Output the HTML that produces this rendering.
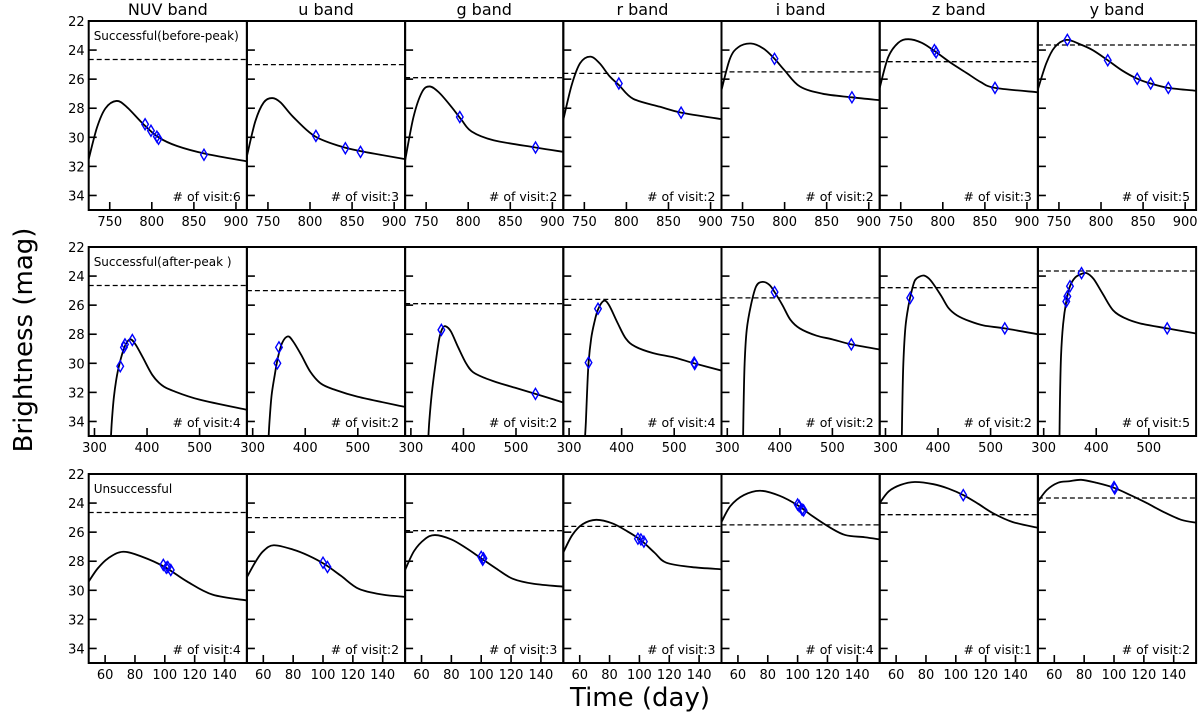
<!DOCTYPE html>
<html><head><meta charset="utf-8"><style>
html,body{margin:0;padding:0;background:#fff;}
svg{display:block;font-family:"DejaVu Sans","Liberation Sans",sans-serif;}
</style></head>
<body>
<svg id="chart" width="1200" height="715" viewBox="0 0 1200 715" xmlns="http://www.w3.org/2000/svg">
<text x="0" y="0" transform="translate(32,340) rotate(-90)" text-anchor="middle" font-size="26">Brightness (mag)</text>
<text x="640" y="706" text-anchor="middle" font-size="26">Time (day)</text>
</svg>
<script>
const bands = ["NUV band","u band","g band","r band","i band","z band","y band"];
const dashLevels = [24.65,25.0,25.9,25.6,25.5,24.8,23.65];
const rowLabels = ["Successful(before-peak)","Successful(after-peak )","Unsuccessful"];
const visitsRow1 = [6,3,2,2,2,3,5];
const visitsRow2 = [4,2,2,4,2,2,5];
const visitsRow3 = [4,2,3,3,4,1,2];
const xDomains = [[725,913],[289,590],[49,155]];
const xTicksRow1 = [750,800,850,900];
const xTicksRow2 = [300,400,500];
const xTicksRow3 = [60,80,100,120,140];
const yTicks = [22,24,26,28,30,32,34];
const yDomain = [22,35];

const curvesRow1 = [
 [[725,31.5],[735,29.3],[745,28.0],[758,27.5],[770,27.9],[790,29.1],[808,30.0],[830,30.6],[865,31.15],[913,31.65]],
 [[725,31.3],[735,28.9],[745,27.6],[755,27.3],[765,27.6],[780,28.6],[805,29.9],[835,30.6],[860,30.95],[913,31.5]],
 [[725,31.6],[735,28.6],[745,26.9],[754,26.5],[765,26.9],[780,27.9],[792,28.8],[804,29.6],[830,30.2],[880,30.7],[913,31.0]],
 [[725,28.8],[735,26.4],[745,24.9],[757,24.45],[768,24.9],[780,25.8],[791,26.4],[808,27.35],[840,27.9],[865,28.3],[913,28.75]],
 [[725,26.75],[735,24.6],[745,23.8],[760,23.55],[775,23.9],[788,24.6],[800,25.4],[818,26.5],[845,27.0],[880,27.25],[913,27.45]],
 [[725,26.6],[735,24.5],[747,23.5],[759,23.25],[775,23.5],[791,24.1],[810,24.9],[829,25.6],[845,26.2],[862,26.6],[913,26.9]],
 [[725,26.7],[735,24.9],[745,23.8],[759,23.3],[775,23.6],[790,24.0],[808,24.7],[825,25.4],[843,25.97],[859,26.3],[880,26.6],[913,26.8]]
];
const curvesRow2 = [
 [[331,35.3],[333,34],[337,32.3],[343,30.8],[350,29.7],[358,28.8],[368,28.35],[378,28.7],[392,29.6],[410,30.8],[428,31.5],[450,31.9],[500,32.5],[590,33.2]],
 [[330,35.3],[332,34],[336,32.2],[342,30.8],[348,29.6],[356,28.6],[367,28.15],[377,28.5],[392,29.4],[410,30.6],[430,31.4],[455,31.8],[500,32.3],[590,33.0]],
 [[333,35.3],[335,34],[340,32],[347,30],[354,28.3],[360,27.6],[366,27.45],[376,27.8],[390,28.9],[405,30.0],[418,30.6],[440,31.0],[463,31.3],[500,31.7],[537,32.1],[590,32.7]],
 [[330,35.3],[332,34],[334,32.2],[337,30.0],[342,28.3],[348,27.2],[355,26.3],[366,25.7],[376,26.0],[392,27.2],[408,28.3],[426,28.85],[460,29.3],[500,29.6],[538,30.0],[590,30.5]],
 [[330,35.3],[331,33],[333,30],[337,27.7],[345,26.0],[355,24.7],[367,24.4],[380,24.6],[390,25.1],[405,26.0],[420,27.0],[438,27.6],[470,28.1],[500,28.35],[536,28.7],[590,29.05]],
 [[331,35.3],[332,33],[334,30],[338,27.5],[344,26],[350,25],[356,24.3],[364,24.05],[374,23.97],[386,24.3],[405,25.3],[420,26.2],[436,26.7],[460,27.1],[487,27.4],[527,27.6],[590,28.0]],
 [[330,35.3],[331,32.5],[333,29.5],[337,27.3],[343,25.75],[350,24.7],[360,24.1],[372,23.85],[382,23.8],[395,24.2],[412,25.2],[432,26.35],[455,26.9],[483,27.25],[535,27.6],[590,27.95]]
];
const curvesRow3 = [
 [[49,29.4],[55,28.5],[62,27.8],[72,27.35],[85,27.7],[100,28.4],[115,29.4],[132,30.3],[155,30.7]],
 [[49,29.1],[55,28.0],[60,27.3],[67,26.9],[80,27.2],[90,27.6],[101,28.2],[112,29.0],[124,29.9],[140,30.3],[155,30.45]],
 [[49,28.6],[55,27.3],[62,26.5],[69,26.2],[80,26.5],[90,27.1],[100,27.8],[110,28.5],[121,29.2],[135,29.55],[155,29.75]],
 [[49,27.4],[55,26.2],[62,25.45],[71,25.15],[82,25.4],[92,25.95],[101,26.55],[110,27.4],[118,28.1],[135,28.4],[155,28.55]],
 [[49,25.3],[55,24.2],[64,23.45],[75,23.15],[88,23.5],[100,24.15],[110,24.9],[122,25.7],[132,26.2],[145,26.35],[155,26.5]],
 [[49,24.0],[55,23.2],[63,22.75],[72.5,22.55],[85,22.7],[95,23.0],[105,23.45],[115,24.05],[125,24.7],[138,25.3],[155,25.7]],
 [[49,23.9],[55,23.1],[62.6,22.6],[70,22.5],[78,22.4],[88,22.6],[100,22.95],[112,23.5],[122,24.0],[133,24.6],[145,25.15],[155,25.35]]
];
const obsRow1 = [
 [[792,29.1],[799,29.55],[806,29.95],[808,30.1],[862,31.2]],
 [[807,29.9],[842,30.75],[860,31.0]],
 [[790,28.6],[880,30.7]],
 [[791,26.3],[865,28.3]],
 [[788,24.6],[880,27.25]],
 [[790,24.0],[792,24.15],[862,26.6]],
 [[760,23.3],[808,24.7],[843,25.97],[859,26.3],[880,26.6]]
];
const obsRow2 = [
 [[349,30.2],[356,28.9],[358,28.7],[372,28.4]],
 [[347,30.0],[350,28.9]],
 [[358,27.7],[537,32.1]],
 [[337,29.95],[355,26.25],[538,29.95],[539,30.05]],
 [[390,25.1],[536,28.7]],
 [[347,25.5],[527,27.6]],
 [[343,25.75],[345,25.4],[350,24.7],[372,23.8],[535,27.6]]
];
const obsRow3 = [
 [[99,28.25],[101,28.45],[102,28.4],[104,28.6]],
 [[100,28.1],[103,28.4]],
 [[100,27.7],[101,27.9],[101.5,27.8]],
 [[99,26.45],[101,26.5],[103,26.65]],
 [[100,24.1],[101,24.2],[103,24.45],[104,24.5]],
 [[105,23.45]],
 [[100,22.9],[100.5,23.0]]
];

const curves = [curvesRow1,curvesRow2,curvesRow3];
const obs = [obsRow1,obsRow2,obsRow3];
const visits = [visitsRow1,visitsRow2,visitsRow3];
const xTicks = [xTicksRow1,xTicksRow2,xTicksRow3];

const NS = "http://www.w3.org/2000/svg";
const svg = document.getElementById('chart');
const col0 = 88.7, colW = 158.2, rowTops = [21,247,474], rowH = 189;

function mk(tag, attrs, parent){
  const e = document.createElementNS(NS, tag);
  for (const k in attrs) e.setAttribute(k, attrs[k]);
  (parent||svg).appendChild(e);
  return e;
}
function crPath(pts){
  let d = "M"+pts[0][0].toFixed(2)+","+pts[0][1].toFixed(2);
  for (let i=0;i<pts.length-1;i++){
    const p0=pts[i-1]||pts[i], p1=pts[i], p2=pts[i+1], p3=pts[i+2]||pts[i+1];
    const c1x=p1[0]+(p2[0]-p0[0])/6, c1y=p1[1]+(p2[1]-p0[1])/6;
    const c2x=p2[0]-(p3[0]-p1[0])/6, c2y=p2[1]-(p3[1]-p1[1])/6;
    d+=" C"+c1x.toFixed(2)+","+c1y.toFixed(2)+" "+c2x.toFixed(2)+","+c2y.toFixed(2)+" "+p2[0].toFixed(2)+","+p2[1].toFixed(2);
  }
  return d;
}

const defs = mk('defs',{});
for (let r=0;r<3;r++){
  for (let c=0;c<7;c++){
    const L = col0 + c*colW, T = rowTops[r], W = colW, H = rowH;
    const dom = xDomains[r];
    const xs = t => L + (t-dom[0])/(dom[1]-dom[0])*W;
    const ys = m => T + (m-yDomain[0])/(yDomain[1]-yDomain[0])*H;
    const cid = "clip"+r+"_"+c;
    const cp = mk('clipPath',{id:cid},defs);
    mk('rect',{x:L,y:T,width:W,height:H},cp);
    const g = mk('g',{});
    
    
    const inner = mk('g',{'clip-path':'url(#'+cid+')'},g);
    // limit line
    const dl = mk('line',{x1:L,x2:L+W,y1:ys(dashLevels[c]),y2:ys(dashLevels[c]),stroke:'#000','stroke-width':1.3,'stroke-dasharray':'5,3'},inner);
    
    
    // curve
    const pts = curves[r][c].map(p=>[xs(p[0]),ys(p[1])]);
    const cv = mk('path',{d:crPath(pts),fill:'none',stroke:'#000','stroke-width':1.8},inner);
    
    
    // observations
    obs[r][c].forEach(p=>{
      const x=xs(p[0]), y=ys(p[1]);
      const dm = mk('polygon',{points:(x)+","+(y-5.5)+" "+(x+3.3)+","+y+" "+x+","+(y+5.5)+" "+(x-3.3)+","+y,fill:'none',stroke:'#0000ff','stroke-width':1.4},inner);
      
      
    });
    // ticks
    yTicks.forEach(v=>{
      if (v===22) return;
      const y=ys(v);
      mk('line',{x1:L,x2:L+8,y1:y,y2:y,stroke:'#000','stroke-width':1.6},g);
    });
    xTicks[r].forEach(v=>{
      const x=xs(v);
      mk('line',{x1:x,x2:x,y1:T+H,y2:T+H-8,stroke:'#000','stroke-width':1.6},g);
      const tl = mk('text',{x:x,y:T+H+16,'text-anchor':'middle','font-size':13},g);
      tl.textContent = v;
      
      
    });
    if (c===0){
      yTicks.forEach(v=>{
        const t = mk('text',{x:L-4,y:ys(v)+5,'text-anchor':'end','font-size':13},g);
        t.textContent = v;
        
        
      });
      const rl = mk('text',{x:L+5,y:T+19,'font-size':12},g);
      rl.textContent = rowLabels[r];
      
      
    }
    const vt = mk('text',{x:L+W-6,y:T+H-9,'text-anchor':'end','font-size':12.5},g);
    vt.textContent = "# of visit:"+visits[r][c];
    
    
    const fr = mk('rect',{x:L,y:T,width:W,height:H,fill:'none',stroke:'#000','stroke-width':2},g);
    
    
    if (r===0){
      const bt = mk('text',{x:L+W/2,y:15,'text-anchor':'middle','font-size':16},svg);
      bt.textContent = bands[c];
      
      
    }
  }
}
</script>
</body></html>
